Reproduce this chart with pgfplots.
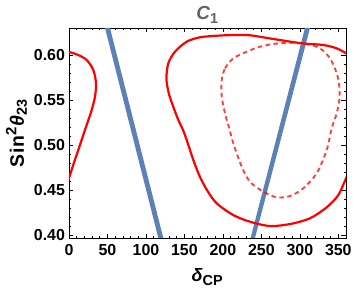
\documentclass[border=0pt]{standalone}
\usepackage{fontspec}
\setmainfont{Liberation Sans}
\usepackage{pgfplots}
\pgfplotsset{compat=1.18}
\definecolor{mblue}{rgb}{0.368417,0.506779,0.709798}
\definecolor{tgray}{RGB}{100,100,100}
\begin{document}
\begin{tikzpicture}
\begin{axis}[name=ax,
  scale only axis, width=277bp, height=210bp,
  xmin=0, xmax=360, ymin=0.3967, ymax=0.63,
  xtick={0,50,...,350}, ytick={0.40,0.45,...,0.61},
  minor x tick num=4, minor y tick num=4,
  tick align=inside, major tick length=4.5bp, minor tick length=2.5bp,
  every tick/.style={black, line width=0.6bp},
  xtick pos=both, ytick pos=both,
  axis line style={line width=0.8bp},
  /pgf/number format/assume math mode=true,
  xticklabel={\pgfmathprintnumber{\tick}},
  yticklabel={\pgfmathprintnumber[fixed,fixed zerofill,precision=2]{\tick}},
  tick label style={font=\fontsize{16}{18}\selectfont\bfseries},
  yticklabel style={xshift=-0.5bp},
  xticklabel style={yshift=-3bp},
  xlabel={\fontsize{18}{20}\selectfont\bfseries\itshape δ\textsubscript{\upshape\fontsize{14.5}{16}\selectfont CP}},
  ylabel={\fontsize{19.5}{22}\selectfont\bfseries S\kern0.5pt i\kern0.5pt n\textsuperscript{\fontsize{15}{17}\selectfont 2}\kern1pt\textit{θ}\textsubscript{\fontsize{14.5}{16}\selectfont 23}},
  xlabel style={yshift=-6bp},
  ylabel style={yshift=0bp},
  title={\fontsize{19}{21}\selectfont\bfseries\color{tgray}\textit{C}\textsubscript{\fontsize{14.5}{16}\selectfont 1}},
  title style={yshift=-5bp},
  clip=true,
]
% blue bands
\addplot[fill=mblue, draw=none] coordinates {(46.8,0.63) (53.3,0.63) (122.6,0.3967) (116.1,0.3967)} --cycle;
\addplot[fill=mblue, draw=none] coordinates {(306.7,0.63) (313.2,0.63) (241.7,0.3967) (236.0,0.3967)} --cycle;
% big solid red curve
\addplot[red, line width=2.2bp, smooth, tension=0.5] coordinates {
(362,0.4665) (360,0.463) (350,0.4444) (334.9,0.4308) (313.2,0.4186) (287.2,0.4122)
(261.2,0.4100) (235.2,0.4148) (213.5,0.4222) (192,0.4352) (180,0.4490) (170,0.4650)
(161.6,0.4833) (153,0.5056) (147.5,0.518) (141.5,0.5290) (134.5,0.545) (129.5,0.558) (126.6,0.5741)
(129.1,0.5908) (137.8,0.6037) (153.0,0.6148) (170.3,0.6197) (192.0,0.6214)
(213.5,0.6222) (235.2,0.6219) (265.5,0.6178) (302.4,0.6130) (330.5,0.6111)
(347.9,0.6074) (360,0.602) (362,0.601)};
% left solid red piece
\addplot[red, line width=2.2bp, smooth, tension=0.5] coordinates {
(-2,0.604) (0,0.6035) (12,0.6) (23,0.5944) (31.6,0.5833) (35.1,0.5686) (33.8,0.5537)
(29.5,0.5389) (25.2,0.5278) (18.5,0.5110) (12.1,0.4944) (5.5,0.478) (0,0.463) (-2,0.459)};
% dashed curve
\addplot[red, opacity=0.75, line width=1.9bp, dash pattern=on 4.5bp off 3.5bp, smooth cycle, tension=0.5] coordinates {
(198.5,0.5722) (202.8,0.5852) (213.5,0.5963) (231.0,0.6037) (248.2,0.6092)
(265.5,0.6122) (287.2,0.6137) (309.0,0.6122) (326.2,0.6074) (339.2,0.5963)
(347.9,0.5797) (351.3,0.5648) (351.3,0.55) (347.9,0.5352) (341.4,0.5186)
(334.9,0.4944) (321.9,0.4686) (304.5,0.4519) (287.2,0.4433) (270.0,0.4419)
(252.5,0.4481) (235.2,0.4592) (224.5,0.4759) (213.5,0.5019) (208.3,0.5186)
(205.0,0.5278) (202.8,0.5352) (198.5,0.5537)};
\end{axis}
\pgfresetboundingbox
\path ([shift={(-69bp,-62bp)}]ax.south west) rectangle ([shift={(8bp,28bp)}]ax.north east);
\end{tikzpicture}
\end{document}
